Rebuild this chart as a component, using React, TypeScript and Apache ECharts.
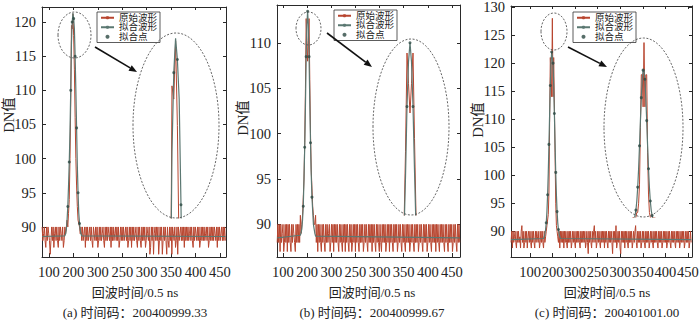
import React, { useEffect, useRef } from "react";
import * as echarts from "echarts";

// ---------- data ----------
const X_TICK_POS = [100, 150, 200, 250, 300, 350, 400, 450];
const X_TICK_LABELS = ["100", "200", "300", "250", "300", "350", "400", "450"];

const Y_TICKS_A = [90, 95, 100, 105, 110, 115, 120];
const Y_TICKS_B = [90, 95, 100, 105, 110];
const Y_TICKS_C = [90, 95, 100, 105, 110, 115, 120, 125, 130];

const NAME_RAW = "原始波形";
const NAME_FIT = "拟合波形";
const NAME_PTS = "拟合点";
const Y_NAME = "DN值";
const X_NAME = "回波时间/0.5 ns";
const CAPTIONS = ["(a) 时间码：200400999.33", "(b) 时间码：200400999.67", "(c) 时间码：200401001.00"];

const SAMPLE_STEP = 1.5;

// panel (a): original waveform samples
const RAW_A_START = 86;
const RAW_A = [
  90, 88, 89, 90, 88, 87, 90, 88, 90, 89, 88, 86, 88, 90, 88, 90, 87, 89, 90, 88,
  90, 88, 87, 90, 88, 90, 89, 88, 90, 87, 88, 90, 89, 90,
  91, 90, 92, 94, 100, 108, 119.5, 119, 121.2, 118, 113, 106, 100, 96, 93, 91, 90.5, 90,
  89, 90, 88, 90, 88, 89, 90, 87, 90, 88,
  90, 88, 89, 90, 88, 90, 88, 87, 90, 89,
  88, 90, 88, 90, 87, 88, 90, 88, 90, 88,
  89, 90, 88, 87, 90, 88, 90, 88, 90, 89,
  88, 90, 87, 90, 88, 90, 88, 89, 90, 88,
  90, 88, 90, 87, 88, 90, 88, 90, 88, 90,
  88, 89, 90, 88, 90, 87, 88, 90, 88, 90,
  87, 90, 88, 90, 88, 89, 90, 88, 87, 90,
  88, 90, 88, 87, 90, 88, 90, 88, 90, 87,
  88, 90, 89, 88, 90, 86, 87, 90, 88, 90,
  86, 89, 90, 88, 90, 88, 90, 86, 88, 90,
  88, 90, 86, 88, 90, 88, 90, 88, 86, 90,
  88, 87, 90, 88, 90, 86, 90, 89, 88, 90,
  87, 88, 90, 86, 90, 88, 89, 90, 88, 90,
  88, 90, 87, 90, 88, 90, 88, 90, 88, 89,
  90, 88, 90, 88, 87, 90, 88, 90, 89, 88,
  90, 88, 90, 87, 88, 90, 88, 90, 88, 90,
  88, 89, 90, 88, 90, 87, 88, 90, 88, 90,
  88, 90, 88, 90, 89, 88, 90, 87, 90, 88,
  90, 88, 89, 90, 88, 90, 88, 90, 88,
];
// panel (a): fitted waveform around the echo
const FIT_A_BASE = 88.6;
const FIT_A_FROM = 31;
const FIT_A_PEAK = [88.7, 89, 89.6, 91, 93, 96, 99.5, 104, 110, 117, 120, 121.3, 120.5, 119, 115, 110, 104.5, 99, 95, 92, 90.5, 89.5, 89, 88.7];

// panel (b)
const RAW_B_START = 88;
const RAW_B = [
  88, 90, 88, 90, 87, 90, 88, 89, 90, 87, 88, 90, 88, 90, 87, 90, 88, 90, 88, 87,
  90, 88, 90, 89, 88, 87, 90, 88, 90, 88, 90, 88, 91, 89,
  90, 91, 93, 95, 99, 105, 112.7, 110.3, 108, 110.3, 112.7, 106, 100, 96, 94, 92, 91, 90,
  90, 91, 88, 90, 87, 90, 88, 90, 88, 87,
  90, 88, 90, 88, 87, 90, 88, 90, 88, 89,
  90, 87, 88, 90, 88, 90, 87, 90, 88, 90,
  88, 90, 88, 87, 90, 88, 90, 88, 87, 90,
  88, 90, 87, 90, 88, 90, 88, 87, 90, 88,
  90, 87, 88, 90, 88, 90, 87, 90, 88, 90,
  88, 87, 90, 88, 90, 88, 90, 87, 88, 90,
  88, 90, 88, 87, 90, 88, 90, 88, 90, 87,
  90, 88, 90, 88, 87, 90, 88, 90, 88, 87,
  90, 88, 87, 90, 88, 90, 88, 90, 87, 88,
  90, 88, 90, 87, 90, 88, 90, 88, 87, 90,
  88, 90, 88, 90, 87, 88, 90, 88, 90, 88,
  87, 90, 88, 90, 88, 87, 90, 88, 90, 88,
  90, 87, 88, 90, 88, 90, 88, 87, 90, 88,
  90, 88, 90, 87, 88, 90, 88, 90, 88, 87,
  90, 88, 90, 88, 90, 87, 88, 90, 88, 90,
  88, 87, 90, 88, 90, 88, 90, 87, 90, 88,
  90, 88, 87, 90, 88, 90, 88, 90, 88, 87,
  90, 88, 90, 88, 87, 90, 88, 90, 88, 90,
  87, 88, 90, 88, 90, 88, 87, 90, 88, 90,
  88,
];
const FIT_B_BASE = 88.5;
const FIT_B_FROM = 32;
const FIT_B_PEAK = [88.8, 89.1, 89.5, 90.5, 92, 95, 98.5, 103, 108.5, 112, 113.5, 112, 108.5, 103.5, 99, 95.5, 93, 91.5, 90, 89.5, 89, 88.7];

// panel (c)
const RAW_C_START = 58;
const RAW_C = [
  88, 90, 87, 90, 88, 89, 90, 88, 87, 90,
  88, 90, 88, 89, 87, 90, 91, 88, 90, 87,
  88, 90, 88, 90, 87, 89, 90, 88, 90, 88,
  87, 90, 88, 90, 88, 87, 90, 88, 90, 89,
  88, 90, 87, 88, 90, 88, 90, 88, 87, 90,
  88, 89,
  90, 91, 91, 93, 97, 109.5, 121, 121, 114, 128, 114, 121, 121, 104, 95, 91, 90,
  89, 88, 90, 87, 90, 88, 90, 88, 90, 87,
  90, 88, 90, 88, 87, 90, 88, 90, 88, 90,
  87, 88, 90, 88, 90, 88, 87, 90, 88, 90,
  88, 90, 88, 87, 90, 88, 90, 88, 90, 88,
  90, 87, 88, 90, 88, 86, 90, 88, 90, 88,
  87, 90, 88, 90, 91, 88, 90, 87, 88, 90,
  88, 90, 88, 87, 90, 88, 90, 88, 90, 87,
  90, 88, 90, 88, 87, 90, 88, 90, 88, 90,
  88, 86, 90, 88, 90, 88, 91, 87, 88, 90,
  88, 90, 87, 86, 90, 88, 90, 88, 90, 87,
  90, 88, 90, 88, 87, 90, 88, 90, 88, 90,
  87, 88, 90, 88, 90, 91, 88, 87, 90, 88,
  90, 88, 90, 87, 88, 90, 88, 90, 88, 87,
  90, 88, 90, 88, 90, 87, 88, 90, 88, 90,
  88, 87, 90, 88, 90, 88, 90, 88, 87, 90,
  88, 90, 88, 90, 87, 88, 90, 88, 90, 88,
  90, 87, 88, 90, 88, 90, 88, 87, 90, 88,
  90, 88, 90, 88, 87, 90, 88, 90, 88, 90,
  87, 88, 90, 88, 90, 88, 90, 87, 88, 90,
  88, 90, 88, 90, 87, 88, 90, 88,
];
const FIT_C_BASE = 88.5;
const FIT_C_FROM = 48;
const FIT_C_PEAK = [88.7, 89, 89.5, 90.3, 91.5, 93.5, 96.5, 100.5, 105.5, 111, 116, 120, 122, 122, 120, 116, 111, 105.5, 100.5, 96.5, 93.5, 91.5, 90.3, 89.5, 89, 88.7];

// ---------- layout / style ----------
const RED = "#b8452f";
const GRAY = "#5b7872";
const DOT = "#2c4842";
const AXIS = "#2a2a2a";
const FONT = '"Liberation Serif", "Noto Sans CJK SC", serif';

const PANELS = [
  { raw: RAW_A, start: RAW_A_START, base: FIT_A_BASE, from: FIT_A_FROM, peak: FIT_A_PEAK, yTicks: Y_TICKS_A,
    grid: { left: 42, top: 7, width: 184, height: 250 }, xr: [85.7, 462.3], yr: [85.6, 122.2],
    inset: { left: 133, top: 33, width: 86, height: 185 }, ixr: [113.5, 185.2], iyr: [114.5, 121.5],
    legend: { left: 97, top: 12 }, dn: [9, 115], name: [135, 292], cap: [135, 312],
    small: [74.5, 35, 16.5, 23], big: [176, 125.5, 43, 92.5], arrow: [95, 47, 137, 72] },
  { raw: RAW_B, start: RAW_B_START, base: FIT_B_BASE, from: FIT_B_FROM, peak: FIT_B_PEAK, yTicks: Y_TICKS_B,
    grid: { left: 277, top: 5, width: 183, height: 252 }, xr: [87.6, 466.6], yr: [86.4, 114.2],
    inset: { left: 373, top: 39, width: 76, height: 176 }, ixr: [114, 190], iyr: [100, 113.8],
    legend: { left: 334, top: 10 }, dn: [243, 118], name: [372, 292], cap: [372, 312],
    small: [308.5, 28.5, 12.5, 16.5], big: [411, 127, 38, 88], arrow: [327, 33, 372, 67] },
  { raw: RAW_C, start: RAW_C_START, base: FIT_C_BASE, from: FIT_C_FROM, peak: FIT_C_PEAK, yTicks: Y_TICKS_C,
    grid: { left: 511, top: 6, width: 181, height: 251 }, xr: [57.9, 458.9], yr: [85.4, 130.2],
    inset: { left: 604, top: 38, width: 79, height: 179 }, ixr: [82.8, 214.5], iyr: [90, 129],
    legend: { left: 573, top: 12 }, dn: [478, 120], name: [607, 292], cap: [607, 312],
    small: [554, 31.5, 13, 18.5], big: [643.5, 127.5, 39.5, 89.5], arrow: [568, 47, 607, 67] },
];

function xLabel(v: number) {
  const k = X_TICK_POS.indexOf(Math.round(v));
  return k >= 0 ? X_TICK_LABELS[k] : "";
}

function arrowHead(x1: number, y1: number, x2: number, y2: number, len = 8, half = 3.2) {
  const dx = x2 - x1, dy = y2 - y1, L = Math.hypot(dx, dy);
  const ux = dx / L, uy = dy / L;
  const bx = x2 - ux * len, by = y2 - uy * len;
  return { base: [bx, by], pts: [[x2, y2], [bx - uy * half, by + ux * half], [bx + uy * half, by - ux * half]] };
}

function buildOption() {
  const grid: any[] = [];
  const xAxis: any[] = [];
  const yAxis: any[] = [];
  const series: any[] = [];
  const legend: any[] = [];
  const graphic: any[] = [];

  const tickStyle = { show: true, inside: true, length: 4, lineStyle: { color: AXIS, width: 1 } };
  const lineStyle = { show: true, onZero: false, lineStyle: { color: AXIS, width: 1 } };

  PANELS.forEach((p, pi) => {
    grid.push({ ...p.grid, containLabel: false, outerBoundsMode: "none" });
    grid.push({ ...p.inset, containLabel: false, outerBoundsMode: "none" });
    const gMain = pi * 2, gIn = pi * 2 + 1;

    xAxis.push({
      type: "value", gridIndex: gMain, position: "bottom", min: p.xr[0], max: p.xr[1],
      axisLine: lineStyle, splitLine: { show: false },
      axisTick: { ...tickStyle, customValues: X_TICK_POS },
      axisLabel: { show: true, customValues: X_TICK_POS, formatter: xLabel, margin: 8,
        fontFamily: FONT, fontSize: 14.5, color: "#222" },
    });
    xAxis.push({
      type: "value", gridIndex: gMain, position: "top", min: p.xr[0], max: p.xr[1],
      axisLine: lineStyle, splitLine: { show: false },
      axisTick: { ...tickStyle, length: 3, customValues: X_TICK_POS }, axisLabel: { show: false },
    });
    xAxis.push({ type: "value", gridIndex: gIn, min: p.ixr[0], max: p.ixr[1], show: false });

    yAxis.push({
      type: "value", gridIndex: gMain, position: "left", min: p.yr[0], max: p.yr[1],
      axisLine: lineStyle, splitLine: { show: false },
      axisTick: { ...tickStyle, customValues: p.yTicks },
      axisLabel: { show: true, customValues: p.yTicks, margin: 6, fontFamily: FONT, fontSize: 14.5, color: "#222" },
    });
    yAxis.push({
      type: "value", gridIndex: gMain, position: "right", min: p.yr[0], max: p.yr[1],
      axisLine: lineStyle, splitLine: { show: false },
      axisTick: { ...tickStyle, length: 3, customValues: p.yTicks }, axisLabel: { show: false },
    });
    yAxis.push({ type: "value", gridIndex: gIn, min: p.iyr[0], max: p.iyr[1], show: false });

    const xi = pi * 3, ii = pi * 3 + 2;
    const rawData = p.raw.map((v, i) => [p.start + SAMPLE_STEP * i, v]);
    const xEnd = p.start + SAMPLE_STEP * (p.raw.length - 1);
    const peakPts = p.peak.map((v, k) => [p.start + SAMPLE_STEP * (p.from + k), v]);
    const fitData = [[p.start, p.base], ...peakPts, [xEnd, p.base]];
    const dots = peakPts.filter((d, k) => k % 2 === 0 && d[1] > 90);
    const insetRaw = rawData.slice(p.from, p.from + p.peak.length);

    const mk = (xIdx: number, raw: any[], fit: any[], z: number) => [
      { type: "line", name: NAME_RAW, xAxisIndex: xIdx, yAxisIndex: xIdx, data: raw, symbol: "none", showSymbol: false,
        lineStyle: { color: RED, width: 1 }, itemStyle: { color: RED }, clip: true, silent: true, z },
      { type: "line", name: NAME_FIT, xAxisIndex: xIdx, yAxisIndex: xIdx, data: fit, symbol: "none", showSymbol: false,
        lineStyle: { color: GRAY, width: 1.2 }, itemStyle: { color: GRAY }, clip: true, silent: true, z: z + 1 },
      { type: "scatter", name: NAME_PTS, xAxisIndex: xIdx, yAxisIndex: xIdx, data: dots, symbolSize: 3,
        itemStyle: { color: DOT }, clip: true, silent: true, z: z + 2 },
    ];
    series.push(...mk(xi, rawData, fitData, 2));
    series.push(...mk(ii, insetRaw, peakPts, 6));

    legend.push({
      left: p.legend.left, top: p.legend.top, orient: "vertical", itemWidth: 13, itemHeight: 4, itemGap: 0,
      padding: [1, 3, 1, 3], borderColor: "#333", borderWidth: 0.8, backgroundColor: "#fff",
      selectedMode: false, z: 20,
      textStyle: { fontSize: 9.5, lineHeight: 9.5, fontFamily: FONT, color: "#222" },
      data: [{ name: NAME_RAW }, { name: NAME_FIT }, { name: NAME_PTS, icon: "circle" }],
    });

    const ell = (e: number[]) => ({
      type: "ellipse", z: 30, silent: true,
      shape: { cx: e[0], cy: e[1], rx: e[2], ry: e[3] },
      style: { fill: "none", stroke: "#555", lineWidth: 0.9, lineDash: [2, 1.6] },
    });
    graphic.push(ell(p.small), ell(p.big));
    const [ax1, ay1, ax2, ay2] = p.arrow;
    const head = arrowHead(ax1, ay1, ax2, ay2);
    graphic.push({ type: "line", z: 30, silent: true, shape: { x1: ax1, y1: ay1, x2: head.base[0], y2: head.base[1] },
      style: { stroke: "#111", lineWidth: 1.6 } });
    graphic.push({ type: "polygon", z: 30, silent: true, shape: { points: head.pts }, style: { fill: "#111" } });

    graphic.push({ type: "text", z: 30, silent: true, x: p.dn[0], y: p.dn[1], rotation: Math.PI / 2,
      style: { text: Y_NAME, font: `14.5px ${FONT}`, fill: "#222", align: "center", verticalAlign: "middle",
        textAlign: "center", textVerticalAlign: "middle" } });
    graphic.push({ type: "text", z: 30, silent: true, x: p.name[0], y: p.name[1],
      style: { text: X_NAME, font: `13px ${FONT}`, fill: "#222", align: "center", verticalAlign: "middle",
        textAlign: "center", textVerticalAlign: "middle" } });
    graphic.push({ type: "text", z: 30, silent: true, x: p.cap[0], y: p.cap[1],
      style: { text: CAPTIONS[pi], font: `13px ${FONT}`, fill: "#222", align: "center", verticalAlign: "middle",
        textAlign: "center", textVerticalAlign: "middle" } });
  });

  return { animation: false, backgroundColor: "#fff", grid, xAxis, yAxis, series, legend, graphic };
}

export default function App() {
  const ref = useRef<HTMLDivElement>(null);
  useEffect(() => {
    if (!ref.current) return;
    const chart = echarts.init(ref.current, null, { renderer: "svg" });
    chart.setOption(buildOption() as any);
    return () => chart.dispose();
  }, []);
  return <div ref={ref} style={{ position: "absolute", left: 0, top: 0, width: 700, height: 321, background: "#fff" }} />;
}
